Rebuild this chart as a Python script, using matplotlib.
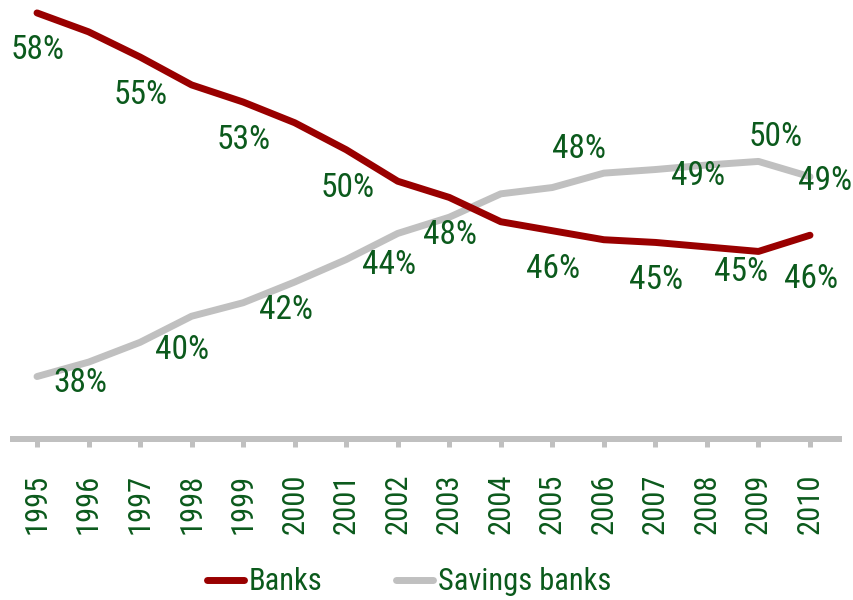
import matplotlib.pyplot as plt
from matplotlib import font_manager as fm

years = list(range(1995, 2011))
banks = [57.85, 56.8, 55.4, 53.85, 52.9, 51.75, 50.25, 48.5, 47.6, 46.25,
         45.75, 45.25, 45.1, 44.85, 44.6, 45.5]
savings = [37.65, 38.45, 39.55, 41.0, 41.75, 42.9, 44.15, 45.6, 46.5, 47.8,
           48.15, 48.95, 49.15, 49.4, 49.6, 48.75]
banks_label_years = [1995, 1997, 1999, 2001, 2003, 2005, 2007, 2009, 2010]
savings_label_years = [1995, 1997, 1999, 2001, 2005, 2007, 2009, 2010]

RED = '#990000'
GREY = '#c0c0c0'
GREEN = '#0b5a1c'

# narrow face if one is around, else plain sans at a smaller size
FONT, FS, YFS, LFS = 'Liberation Sans', 19, 17, 18
for name, size, ysize, lsize in [('Roboto Condensed', 24, 22, 22),
                                 ('Liberation Sans Narrow', 22, 21, 21),
                                 ('Noto Sans Condensed', 21, 19, 20)]:
    try:
        fm.findfont(fm.FontProperties(family=name), fallback_to_default=False)
        FONT, FS, YFS, LFS = name, size, ysize, lsize
        break
    except ValueError:
        pass
plt.rcParams['font.family'] = [FONT, 'DejaVu Sans']

# label offsets in pixels (dx right, dy down) from the point to the text centre
banks_off = {1995: (1, 35), 2009: (-17, 19), 2010: (1, 42)}
savings_off = {1995: (43, 4), 1997: (42, 6), 1999: (43, 5), 2001: (43, 3),
               2005: (27, -41), 2007: (43, 4), 2009: (17, -26), 2010: (15, 2)}

fig = plt.figure(figsize=(8.54, 6), dpi=100)
ax = fig.add_axes([13 / 854, 1 - 439 / 600, 826 / 854, 434 / 600])

ax.plot(years, banks, color=RED, lw=5, solid_capstyle='round',
        solid_joinstyle='round', label='Banks', clip_on=False, zorder=3)
ax.plot(years, savings, color=GREY, lw=5, solid_capstyle='round',
        solid_joinstyle='round', label='Savings banks', clip_on=False, zorder=2)

ax.set_xlim(1994.534, 2010.563)
ax.set_ylim(34.18, 58.29)


def put_label(year, value, off):
    dx, dy = off
    # baseline sits ~11px below the visual centre of the digits
    ax.annotate(f'{value:.0f}%', (year, value),
                xytext=(dx * 0.72, -(dy + 11) * 0.72), textcoords='offset points',
                ha='center', va='baseline', fontsize=FS, color=GREEN, zorder=4)


for y in banks_label_years:
    put_label(y, banks[years.index(y)], banks_off.get(y, (1, 36)))
for y in savings_label_years:
    put_label(y, savings[years.index(y)], savings_off[y])

for side in ['top', 'right', 'left']:
    ax.spines[side].set_visible(False)
ax.spines['bottom'].set_color(GREY)
ax.spines['bottom'].set_linewidth(4.3)
ax.set_yticks([])
ax.set_xticks(years)
ax.set_xticklabels([str(y) for y in years])
ax.tick_params(axis='x', length=5.8, width=3.6, color=GREY, pad=19,
               labelsize=YFS, labelcolor=GREEN, labelrotation=90)

leg = ax.legend(loc='center', bbox_to_anchor=(0.479, 0.03),
                bbox_transform=fig.transFigure, ncol=2, frameon=False,
                fontsize=LFS, handlelength=1.2, handletextpad=0.17,
                columnspacing=2.4, borderpad=0)
for t in leg.get_texts():
    t.set_color(GREEN)

fig.savefig('out.png', dpi=100)
